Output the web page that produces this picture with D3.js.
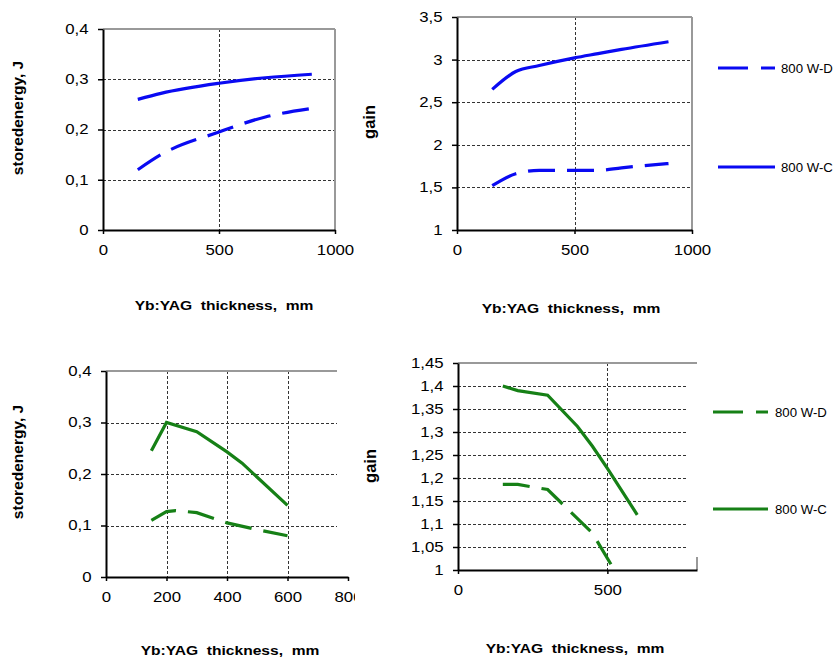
<!DOCTYPE html>
<html>
<head>
<meta charset="utf-8">
<script src="https://cdn.jsdelivr.net/npm/d3@7"></script>
<style>
body { margin: 0; background: #fff; }
text { font-family: "Liberation Sans", Arial, sans-serif; fill: #000; }
</style>
</head>
<body>
<svg id="chart" width="837" height="659"></svg>
<script>
// top-left: stored energy (blue)
var seTopX = [150, 250, 500, 700, 900];
var seTopC = [0.26, 0.272, 0.292, 0.303, 0.31];
var seTopD = [0.12, 0.15, 0.195, 0.225, 0.242];

// top-right: gain (blue)
var gainTopX = [150, 250, 350, 500, 600, 700, 900];
var gainTopC = [2.65, 2.86, 2.93, 3.02, 3.07, 3.12, 3.21];
var gainTopD = [1.52, 1.66, 1.70, 1.70, 1.70, 1.73, 1.78];

// bottom-left: stored energy (green)
var seBotXC = [150, 200, 300, 400, 450, 600];
var seBotC = [0.245, 0.30, 0.282, 0.243, 0.221, 0.139];
var seBotXD = [150, 200, 230, 300, 400, 500, 600];
var seBotD = [0.11, 0.127, 0.129, 0.125, 0.105, 0.092, 0.08];

// bottom-right: gain (green)
var gainBotXC = [150, 200, 300, 400, 450, 500, 600];
var gainBotC = [1.40, 1.39, 1.38, 1.312, 1.269, 1.221, 1.12];
var gainBotXD = [150, 200, 300, 450, 515];
var gainBotD = [1.186, 1.186, 1.175, 1.08, 1.009];

var legendNames = ['800 W-D', '800 W-C'];
var xTitle = 'Yb:YAG  thickness,  mm';
var energyTitle = 'storedenergy, J';
var gainTitle = 'gain';

var blue = '#0a0af2';
var green = '#168016';
var dash = '27,12';

var svg = d3.select('#chart');
var comma = function(d) { return String(+d.toFixed(2)).replace('.', ','); };

function panel(p) {
  var g = svg.append('g');
  if (p.clipRight) {
    svg.append('clipPath').attr('id', p.id)
      .append('rect').attr('x', 0).attr('y', 0).attr('width', p.clipRight).attr('height', 659);
    g.attr('clip-path', 'url(#' + p.id + ')');
  }
  var x = d3.scaleLinear().domain(p.xDomain).range(p.xRange);
  var y = d3.scaleLinear().domain(p.yDomain).range(p.yRange);
  var x0 = p.xRange[0], y0 = p.yRange[0], yTop = p.yRange[1];

  // grid
  g.selectAll('.gy').data(p.gridY).enter().append('line')
    .attr('x1', x0).attr('x2', p.gridEnd)
    .attr('y1', function(d) { return Math.round(y(d)) + 0.5; })
    .attr('y2', function(d) { return Math.round(y(d)) + 0.5; })
    .style('stroke', '#333').style('stroke-width', 1).style('stroke-dasharray', '3,2');
  g.selectAll('.gx').data(p.gridX).enter().append('line')
    .attr('x1', function(d) { return Math.round(x(d)) + 0.5; })
    .attr('x2', function(d) { return Math.round(x(d)) + 0.5; })
    .attr('y1', yTop).attr('y2', y0)
    .style('stroke', '#333').style('stroke-width', 1).style('stroke-dasharray', '3,2');

  // gray frame (top and right)
  g.append('line').attr('x1', x0).attr('x2', p.topEnd).attr('y1', yTop).attr('y2', yTop)
    .style('stroke', '#999').style('stroke-width', 2);
  if (p.rightFrom != null) {
    g.append('line').attr('x1', p.rightX).attr('x2', p.rightX)
      .attr('y1', p.rightFrom).attr('y2', y0)
      .style('stroke', '#999').style('stroke-width', 2);
  }

  // axes
  var ax = g.append('g').attr('transform', 'translate(0,' + y0 + ')')
    .call(d3.axisBottom(x).tickValues(p.xTicks).tickSize(4).tickSizeOuter(0)
      .tickPadding(11).tickFormat(d3.format('d')));
  var ay = g.append('g').attr('transform', 'translate(' + x0 + ',0)')
    .call(d3.axisLeft(y).tickValues(p.yTicks).tickSize(5).tickSizeOuter(0)
      .tickPadding(7).tickFormat(comma));
  [ax, ay].forEach(function(a) {
    a.select('.domain').style('stroke', '#000').style('stroke-width', 2);
    a.selectAll('.tick line').style('stroke', '#000').style('stroke-width', 1.5);
    a.selectAll('.tick text').style('font-size', '14px')
      .style('font-family', '"Liberation Sans", Arial, sans-serif')
      .attr('transform', 'scale(1.2,1)');
  });

  // series
  var line = d3.line().x(function(d) { return x(d[0]); }).y(function(d) { return y(d[1]); })
    .curve(p.curve);
  p.series.forEach(function(s) {
    g.append('path').datum(d3.zip(s.x, s.y)).attr('d', line)
      .style('fill', 'none').style('stroke', p.color).style('stroke-width', 3.2)
      .style('stroke-dasharray', s.dashed ? dash : null);
  });

  // titles
  svg.append('text').attr('transform', 'translate(' + p.xTitlePos[0] + ',' + p.xTitlePos[1] + ') scale(1.2,1)')
    .attr('text-anchor', 'middle').style('font-weight', 'bold').style('font-size', '13px')
    .style('white-space', 'pre').text(xTitle);
  svg.append('text').attr('transform', 'translate(' + p.yTitlePos[0] + ',' + p.yTitlePos[1] + ') rotate(-90)')
    .attr('text-anchor', 'middle').style('font-weight', 'bold').style('font-size', p.yTitleSize)
    .text(p.yTitle);

  // legend
  if (p.legend) {
    p.series.forEach(function(s, i) {
      var ly = p.legend.ys[i];
      svg.append('line').attr('x1', p.legend.x1).attr('x2', p.legend.x2).attr('y1', ly).attr('y2', ly)
        .style('stroke', p.color).style('stroke-width', 3.2)
        .style('stroke-dasharray', s.dashed ? '30,13' : null);
      svg.append('text').attr('transform', 'translate(' + p.legend.tx + ',' + (ly + 4.5) + ') scale(1.1,1)')
        .style('font-size', '12px').text(legendNames[i]);
    });
  }
}

panel({
  id: 'c1', clipRight: 354,
  xDomain: [0, 1000], xRange: [103, 335], yDomain: [0, 0.4], yRange: [230, 29],
  xTicks: [0, 500, 1000], yTicks: [0, 0.1, 0.2, 0.3, 0.4],
  gridX: [500], gridY: [0.1, 0.2, 0.3], gridEnd: 335, topEnd: 335, rightX: 335, rightFrom: 29,
  color: blue, curve: d3.curveMonotoneX,
  series: [{x: seTopX, y: seTopD, dashed: true}, {x: seTopX, y: seTopC, dashed: false}],
  xTitlePos: [224, 310], yTitlePos: [23, 118], yTitle: energyTitle, yTitleSize: '15.5px'
});

panel({
  id: 'c2',
  xDomain: [0, 1000], xRange: [457, 692], yDomain: [1, 3.5], yRange: [230, 17],
  xTicks: [0, 500, 1000], yTicks: [1, 1.5, 2, 2.5, 3, 3.5],
  gridX: [500], gridY: [1.5, 2, 2.5, 3], gridEnd: 692, topEnd: 692, rightX: 692, rightFrom: 17,
  color: blue, curve: d3.curveMonotoneX,
  series: [{x: gainTopX, y: gainTopD, dashed: true}, {x: gainTopX, y: gainTopC, dashed: false}],
  xTitlePos: [571, 313], yTitlePos: [375, 122], yTitle: gainTitle, yTitleSize: '16.5px',
  legend: {x1: 718, x2: 775, tx: 781, ys: [68, 167]}
});

panel({
  id: 'c3', clipRight: 355,
  xDomain: [0, 800], xRange: [106, 348], yDomain: [0, 0.4], yRange: [577, 371],
  xTicks: [0, 200, 400, 600, 800], yTicks: [0, 0.1, 0.2, 0.3, 0.4],
  gridX: [200, 400, 600], gridY: [0.1, 0.2, 0.3], gridEnd: 337, topEnd: 337, rightX: null, rightFrom: null,
  color: green, curve: d3.curveLinear,
  series: [{x: seBotXD, y: seBotD, dashed: true}, {x: seBotXC, y: seBotC, dashed: false}],
  xTitlePos: [230, 655], yTitlePos: [23, 462], yTitle: energyTitle, yTitleSize: '15.5px'
});

panel({
  id: 'c4',
  xDomain: [0, 800], xRange: [458, 697], yDomain: [1, 1.45], yRange: [570, 363],
  xTicks: [0, 500], yTicks: [1, 1.05, 1.1, 1.15, 1.2, 1.25, 1.3, 1.35, 1.4, 1.45],
  gridX: [500], gridY: [1.05, 1.1, 1.15, 1.2, 1.25, 1.3, 1.35, 1.4], gridEnd: 688, topEnd: 697, rightX: 697, rightFrom: 557,
  color: green, curve: d3.curveLinear,
  series: [{x: gainBotXD, y: gainBotD, dashed: true}, {x: gainBotXC, y: gainBotC, dashed: false}],
  xTitlePos: [575, 653], yTitlePos: [376, 466], yTitle: gainTitle, yTitleSize: '16.5px',
  legend: {x1: 713, x2: 768, tx: 775, ys: [412, 509]}
});
</script>
</body>
</html>
